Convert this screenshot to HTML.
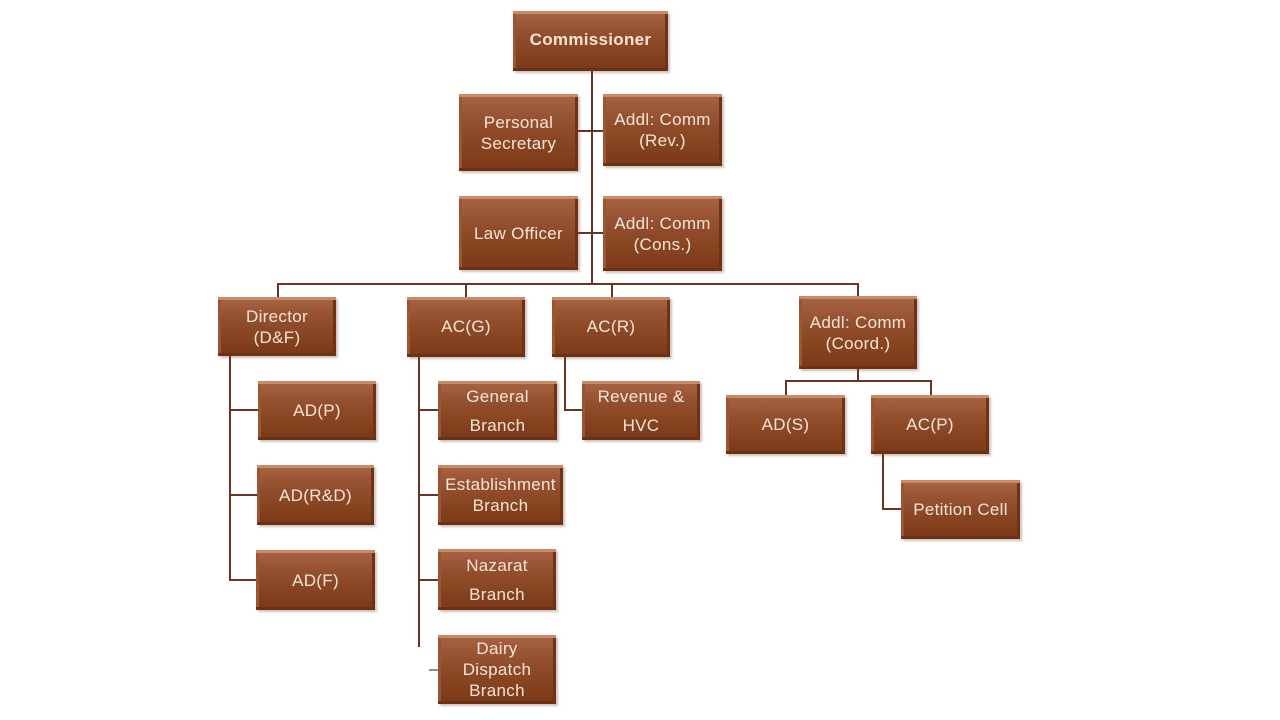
<!DOCTYPE html>
<html><head><meta charset="utf-8"><style>
html,body{margin:0;padding:0;background:#fff;}
body{width:1280px;height:720px;position:relative;overflow:hidden;font-family:"Liberation Sans",sans-serif;}
.b{position:absolute;box-sizing:border-box;background:linear-gradient(180deg,#a86444 0%,#94502f 35%,#86431f 70%,#7a3819 100%);
box-shadow:inset 0 3px 0 #c98a68,inset -3px 0 0 #6e3315,inset 0 -3px 0 #6a3114,inset 3px 0 0 #9a5634,2px 2px 2px rgba(120,80,60,0.35);
color:#f4e4d6;display:flex;align-items:center;justify-content:center;text-align:center;font-size:17px;line-height:21px;letter-spacing:0.3px;}
.l{position:absolute;background:#6b3320;}
</style></head><body>
<!-- lines -->
<div class="l" style="left:591px;top:71px;width:2px;height:214px"></div>
<div class="l" style="left:578px;top:130px;width:25px;height:2px"></div>
<div class="l" style="left:578px;top:232px;width:25px;height:2px"></div>
<div class="l" style="left:277px;top:283px;width:582px;height:2px"></div>
<div class="l" style="left:277px;top:283px;width:2px;height:14px"></div>
<div class="l" style="left:465px;top:283px;width:2px;height:14px"></div>
<div class="l" style="left:611px;top:283px;width:2px;height:14px"></div>
<div class="l" style="left:857px;top:283px;width:2px;height:14px"></div>
<!-- Director children -->
<div class="l" style="left:229px;top:356px;width:2px;height:225px"></div>
<div class="l" style="left:229px;top:409px;width:29px;height:2px"></div>
<div class="l" style="left:229px;top:494px;width:28px;height:2px"></div>
<div class="l" style="left:229px;top:579px;width:27px;height:2px"></div>
<!-- AC(G) children -->
<div class="l" style="left:418px;top:357px;width:2px;height:290px"></div>
<div class="l" style="left:418px;top:409px;width:20px;height:2px"></div>
<div class="l" style="left:418px;top:494px;width:20px;height:2px"></div>
<div class="l" style="left:418px;top:579px;width:20px;height:2px"></div>
<div class="l" style="left:429px;top:669px;width:9px;height:2px;opacity:.6"></div>
<!-- AC(R) -->
<div class="l" style="left:564px;top:357px;width:2px;height:54px"></div>
<div class="l" style="left:564px;top:409px;width:18px;height:2px"></div>
<!-- Coord -->
<div class="l" style="left:857px;top:369px;width:2px;height:13px"></div>
<div class="l" style="left:785px;top:380px;width:147px;height:2px"></div>
<div class="l" style="left:785px;top:380px;width:2px;height:15px"></div>
<div class="l" style="left:930px;top:380px;width:2px;height:15px"></div>
<div class="l" style="left:882px;top:454px;width:2px;height:56px"></div>
<div class="l" style="left:882px;top:508px;width:19px;height:2px"></div>

<!-- boxes -->
<div class="b" style="left:513px;top:11px;width:155px;height:60px;font-weight:bold;padding-bottom:4px">Commissioner</div>
<div class="b" style="left:459px;top:94px;width:119px;height:77px;">Personal<br>Secretary</div>
<div class="b" style="left:603px;top:94px;width:119px;height:72px;">Addl: Comm<br>(Rev.)</div>
<div class="b" style="left:459px;top:196px;width:119px;height:74px;">Law Officer</div>
<div class="b" style="left:603px;top:196px;width:119px;height:75px;">Addl: Comm<br>(Cons.)</div>

<div class="b" style="left:218px;top:297px;width:118px;height:59px;">Director<br>(D&amp;F)</div>
<div class="b" style="left:407px;top:297px;width:118px;height:60px;padding-bottom:2px">AC(G)</div>
<div class="b" style="left:552px;top:297px;width:118px;height:60px;padding-bottom:2px">AC(R)</div>
<div class="b" style="left:799px;top:296px;width:118px;height:73px;">Addl: Comm<br>(Coord.)</div>

<div class="b" style="left:258px;top:381px;width:118px;height:59px;">AD(P)</div>
<div class="b" style="left:257px;top:465px;width:117px;height:60px;">AD(R&amp;D)</div>
<div class="b" style="left:256px;top:550px;width:119px;height:60px;">AD(F)</div>

<div class="b" style="left:438px;top:381px;width:119px;height:59px;line-height:29px">General<br>Branch</div>
<div class="b" style="left:438px;top:465px;width:125px;height:60px;">Establishment<br>Branch</div>
<div class="b" style="left:438px;top:549px;width:118px;height:61px;line-height:29px">Nazarat<br>Branch</div>
<div class="b" style="left:438px;top:635px;width:118px;height:69px;">Dairy<br>Dispatch<br>Branch</div>

<div class="b" style="left:582px;top:381px;width:118px;height:59px;line-height:29px">Revenue &amp;<br>HVC</div>

<div class="b" style="left:726px;top:395px;width:119px;height:59px;">AD(S)</div>
<div class="b" style="left:871px;top:395px;width:118px;height:59px;">AC(P)</div>
<div class="b" style="left:901px;top:480px;width:119px;height:59px;">Petition Cell</div>
</body></html>
